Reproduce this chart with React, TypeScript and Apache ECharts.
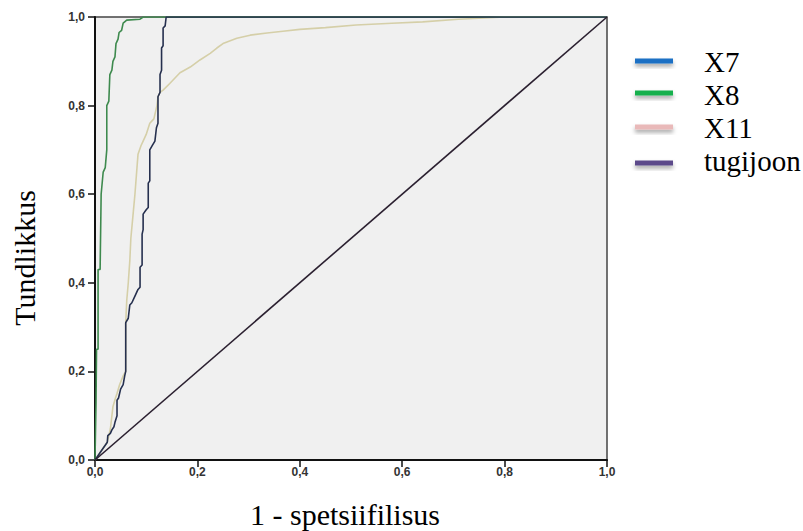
import React, { useEffect, useRef } from "react";
import * as echarts from "echarts";

const seriesNames = ["X7", "X8", "X11", "tugijoon"];
const legendColors = ["#1a6fc4", "#14b04e", "#e9b9b9", "#5b4a8a"];

const x7: number[][] = [
  [0, 0], [0.024, 0.04], [0.025, 0.055], [0.03, 0.06], [0.033, 0.068], [0.037, 0.075],
  [0.039, 0.085], [0.043, 0.1], [0.043, 0.135], [0.046, 0.14], [0.05, 0.16], [0.055, 0.17],
  [0.058, 0.19], [0.06, 0.2], [0.06, 0.31], [0.065, 0.32], [0.068, 0.35], [0.072, 0.355],
  [0.078, 0.37], [0.084, 0.385], [0.088, 0.39], [0.088, 0.435], [0.092, 0.44], [0.092, 0.51],
  [0.094, 0.52], [0.094, 0.555], [0.1, 0.565], [0.104, 0.57], [0.104, 0.625], [0.107, 0.63],
  [0.107, 0.7], [0.112, 0.71], [0.117, 0.72], [0.12, 0.75], [0.123, 0.76], [0.123, 0.82],
  [0.127, 0.83], [0.127, 0.87], [0.13, 0.88], [0.13, 0.93], [0.133, 0.935], [0.133, 0.975],
  [0.137, 0.98], [0.139, 1], [1, 1],
];

const x8: number[][] = [
  [0, 0], [0.002, 0.13], [0.003, 0.25], [0.006, 0.25], [0.006, 0.43], [0.01, 0.43],
  [0.012, 0.6], [0.016, 0.65], [0.02, 0.66], [0.023, 0.7], [0.023, 0.8], [0.027, 0.81],
  [0.029, 0.87], [0.033, 0.88], [0.035, 0.9], [0.039, 0.91], [0.041, 0.94], [0.045, 0.95],
  [0.047, 0.965], [0.052, 0.97], [0.055, 0.986], [0.062, 0.993], [0.088, 0.995], [0.094, 1],
  [1, 1],
];

const x11: number[][] = [
  [0, 0], [0.024, 0.04], [0.03, 0.07], [0.035, 0.12], [0.04, 0.14], [0.043, 0.15],
  [0.048, 0.17], [0.055, 0.19], [0.06, 0.2], [0.06, 0.31], [0.062, 0.36], [0.065, 0.4],
  [0.068, 0.45], [0.07, 0.5], [0.074, 0.55], [0.078, 0.6], [0.082, 0.66], [0.084, 0.69],
  [0.09, 0.71], [0.094, 0.72], [0.1, 0.735], [0.107, 0.76], [0.115, 0.77], [0.121, 0.8],
  [0.123, 0.82], [0.127, 0.83], [0.133, 0.835], [0.146, 0.85], [0.166, 0.874], [0.186, 0.887],
  [0.205, 0.903], [0.225, 0.918], [0.238, 0.93], [0.25, 0.94], [0.277, 0.952], [0.303, 0.959],
  [0.336, 0.964], [0.367, 0.968], [0.4, 0.972], [0.45, 0.976], [0.51, 0.982], [0.58, 0.986],
  [0.64, 0.989], [0.71, 0.995], [0.8, 1], [1, 1],
];

const diagonal: number[][] = [[0, 0], [1, 1]];

const xTitle = "1 - spetsiifilisus";
const yTitle = "Tundlikkus";

const SERIF = "Liberation Serif";

export default function App() {
  const ref = useRef<HTMLDivElement>(null);
  useEffect(() => {
    if (!ref.current) return;
    const chart = echarts.init(ref.current, undefined, { renderer: "svg" });
    const fmt = (v: number) => v.toFixed(1).replace(".", ",");
    const axisCommon = {
      type: "value" as const,
      min: 0,
      max: 1,
      interval: 0.2,
      axisLine: { show: true, onZero: false, lineStyle: { color: "#111", width: 2 } },
      axisTick: { show: true, inside: false, length: 7, lineStyle: { color: "#111", width: 1.5 } },
      splitLine: { show: false },
      axisLabel: {
        formatter: fmt,
        color: "#333",
        fontFamily: "Liberation Sans",
        fontWeight: "bold" as const,
        fontSize: 12,
      },
    };
    const lineSeries = (name: string, data: number[][], color: string, z: number) => ({
      type: "line" as const,
      name,
      data,
      showSymbol: false,
      symbol: "none",
      z,
      lineStyle: { color, width: 1.6 },
      itemStyle: { color },
    });
    const legendY = [61, 93, 127, 163];
    const rects: any[] = seriesNames.map((n, i) => ({
      type: "rect",
      shape: { x: 635, y: legendY[i] - 2.5, width: 38, height: 5 },
      style: {
        fill: legendColors[i],
        shadowBlur: 4,
        shadowOffsetY: 3,
        shadowColor: "rgba(0,0,0,0.35)",
      },
    }));
    chart.setOption({
      animation: false,
      grid: {
        left: 95,
        top: 17,
        width: 512,
        height: 443,
        show: true,
        backgroundColor: "#f0f0f0",
        borderColor: "#444",
        borderWidth: 1.5,
      },
      legend: {
        orient: "vertical",
        left: 674,
        top: 42,
        itemGap: 4,
        itemWidth: 0,
        itemHeight: 27,
        icon: "none",
        selectedMode: false,
        data: seriesNames,
        textStyle: {
          fontFamily: SERIF,
          fontSize: 29,
          color: "#000",
          padding: [0, 0, 0, 20],
        },
      },
      xAxis: { ...axisCommon, axisLabel: { ...axisCommon.axisLabel, margin: 6 } },
      yAxis: { ...axisCommon, axisLabel: { ...axisCommon.axisLabel, margin: 10 } },
      series: [
        lineSeries(seriesNames[0], x7, "#26304f", 4),
        lineSeries(seriesNames[1], x8, "#3e8a4e", 3),
        lineSeries(seriesNames[2], x11, "#d5cfa8", 2),
        lineSeries(seriesNames[3], diagonal, "#2b2030", 5),
      ],
      graphic: [
        ...rects,
        {
          type: "text",
          x: 345,
          y: 514,
          style: {
            text: xTitle,
            fill: "#000",
            fontSize: 30,
            fontFamily: SERIF,
            textAlign: "center",
            textVerticalAlign: "middle",
          },
        },
        {
          type: "text",
          x: 24,
          y: 258,
          rotation: Math.PI / 2,
          style: {
            text: yTitle,
            fill: "#000",
            fontSize: 30,
            fontFamily: SERIF,
            textAlign: "center",
            textVerticalAlign: "middle",
          },
        },
      ],
    });
    return () => chart.dispose();
  }, []);
  return (
    <div style={{ position: "absolute", left: 0, top: 0 }}>
      <div ref={ref} style={{ width: 803, height: 531 }} />
    </div>
  );
}
